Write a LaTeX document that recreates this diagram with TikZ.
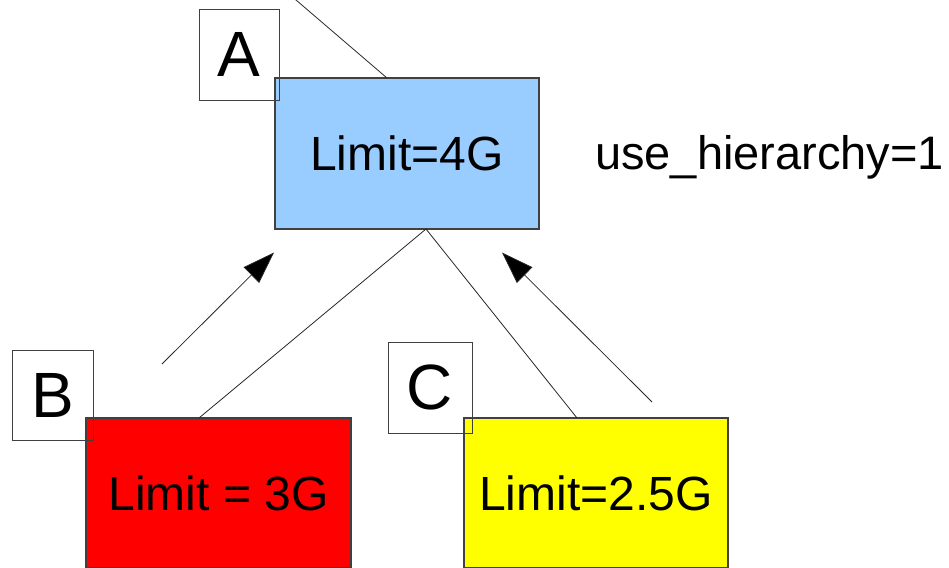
\documentclass[tikz,border=0pt]{standalone}
\usepackage{fontspec}
\setmainfont{Liberation Sans}
\usetikzlibrary{arrows.meta}

\definecolor{rootblue}{HTML}{99CCFF}
\definecolor{childred}{HTML}{FF0000}
\definecolor{childyellow}{HTML}{FFFF00}
\definecolor{edgegray}{HTML}{404040}

\tikzset{
  group/.style={draw=edgegray, line width=1.1pt, inner sep=0pt, outer sep=0pt,
    font=\fontsize{48}{58}\selectfont},
  tag/.style={draw=edgegray, line width=0.9pt, inner sep=0pt, outer sep=0pt,
    font=\fontsize{64}{76}\selectfont},
  link/.style={draw=black!85, line width=0.8pt},
  charge/.style={draw=black!85, line width=0.8pt, -{Triangle[length=32pt,width=22pt,fill=black]}}
}

\begin{document}
\begin{tikzpicture}[x=1pt,y=-1pt]
  \useasboundingbox (0,0) rectangle (949,567);
  \clip (0,0) rectangle (949,567);

  % memory cgroup boxes
  \node[group, fill=rootblue, minimum width=264pt, minimum height=151pt] (root) at (407,153.5) {Limit=4G};
  \node[group, fill=childred, minimum width=265pt, minimum height=150pt] (childb) at (218.5,493) {Limit = 3G};
  \node[group, fill=childyellow, minimum width=264pt, minimum height=150pt] (childc) at (596,493) {Limit=2.5G};

  % group tags
  \node[tag, minimum width=80pt, minimum height=91pt] (taga) at (239,54.5) {A};
  \node[tag, minimum width=81pt, minimum height=90pt] (tagb) at (52.5,395) {B};
  \node[tag, minimum width=84pt, minimum height=91pt] (tagc) at (430,387.5) {C};

  \node[font=\fontsize{47}{56}\selectfont, anchor=base west, inner sep=0pt] (flag) at (595,169.5) {use\_hierarchy=1};

  % tree edges
  \coordinate (roottop) at ([xshift=112pt]root.north west);
  \coordinate (rootup) at (250.5,-39);
  \coordinate (hub) at ([xshift=151pt]root.south west);
  \coordinate (btop) at ([xshift=113pt]childb.north west);
  \coordinate (ctop) at ([xshift=113pt]childc.north west);
  \draw[link] (roottop) -- (rootup);
  \draw[link] (hub) -- (btop);
  \draw[link] (hub) -- (ctop);

  % charges propagating to the parent
  \coordinate (bfrom) at (162,364);
  \coordinate (bto) at (274,252.5);
  \coordinate (cfrom) at (652,402);
  \coordinate (cto) at (502,252.5);
  \draw[charge] (bfrom) -- (bto);
  \draw[charge] (cfrom) -- (cto);
\end{tikzpicture}
\end{document}
